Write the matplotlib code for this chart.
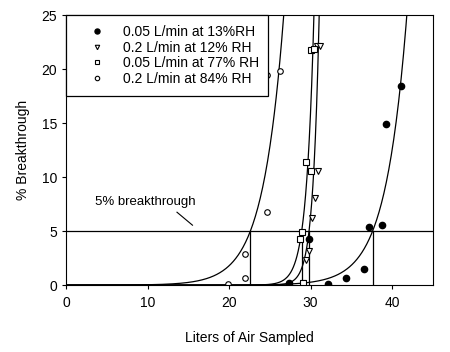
import numpy as np
import matplotlib
matplotlib.use('Agg')
import matplotlib.pyplot as plt

plt.rcParams['font.family'] = ['Liberation Sans', 'DejaVu Sans']

# measured points (liters sampled, % breakthrough)
lo_rh_005_x = [27.4, 29.8, 32.1, 34.3, 36.5, 37.2, 38.7, 39.3, 41.1]
lo_rh_005_y = [0.2, 4.3, 0.15, 0.68, 1.45, 5.4, 5.6, 14.9, 18.4]

lo_rh_02_x = [29.0, 29.4, 29.8, 30.2, 30.5, 30.9, 30.8, 31.1]
lo_rh_02_y = [0.2, 2.3, 3.2, 6.2, 8.1, 10.6, 22.1, 22.1]

hi_rh_005_x = [29.0, 28.7, 28.9, 29.4, 30.0, 30.1, 30.4]
hi_rh_005_y = [0.2, 4.3, 4.9, 11.4, 10.6, 21.8, 21.9]

hi_rh_02_x = [19.8, 22.0, 22.0, 24.7, 24.6, 26.3]
hi_rh_02_y = [0.1, 0.7, 2.9, 6.8, 19.5, 19.8]

labels = ['0.05 L/min at 13%RH', '0.2 L/min at 12% RH',
          '0.05 L/min at 77% RH', '0.2 L/min at 84% RH']

# fitted exponential curves: volume at 5% breakthrough and growth rate
x5 = [37.6, 29.8, 28.9, 22.6]
rate = [0.383, 1.29, 1.07, 0.393]

fig = plt.figure(figsize=(4.5, 3.52), dpi=100)
ax = fig.add_axes([0.147, 0.19, 0.815, 0.767])

xs = np.linspace(0, 45, 600)
for v, k in zip(x5, rate):
    ys = 5 * np.exp(k * (xs - v))
    ax.plot(xs, ys, color='black', lw=0.9)
    ax.plot([v, v], [0, 5], color='black', lw=0.9)

ax.axhline(5, color='black', lw=0.9)
ax.text(3.5, 7.4, '5% breakthrough', fontsize=9.5)
ax.plot([13.6, 15.5], [6.75, 5.55], color='black', lw=0.8)

ms = 4
ax.plot(lo_rh_005_x, lo_rh_005_y, 'o', color='black', ms=4.5, label=labels[0])
ax.plot(lo_rh_02_x, lo_rh_02_y, 'v', mfc='white', mec='black', mew=0.8, ms=ms, label=labels[1])
ax.plot(hi_rh_005_x, hi_rh_005_y, 's', mfc='white', mec='black', mew=0.8, ms=ms, label=labels[2])
ax.plot(hi_rh_02_x, hi_rh_02_y, 'o', mfc='white', mec='black', mew=0.8, ms=ms, label=labels[3])

ax.set_xlim(0, 45)
ax.set_ylim(0, 25)
ax.set_xticks([0, 10, 20, 30, 40])
ax.set_yticks([0, 5, 10, 15, 20, 25])
ax.tick_params(direction='out', length=3, labelsize=10)
ax.tick_params(axis='x', pad=5)
ax.set_xlabel('Liters of Air Sampled', fontsize=10, labelpad=15)
ax.set_ylabel('% Breakthrough', fontsize=10, labelpad=8)

leg = ax.legend(loc='upper left', bbox_to_anchor=(0.0, 1.0), borderaxespad=0,
                fontsize=10, frameon=True, fancybox=False, edgecolor='black',
                framealpha=1, borderpad=0.7, handlelength=3.0, handletextpad=0.36,
                labelspacing=0.12, markerscale=0.8)
leg.get_frame().set_linewidth(0.9)

fig.savefig('out.png', dpi=100)
